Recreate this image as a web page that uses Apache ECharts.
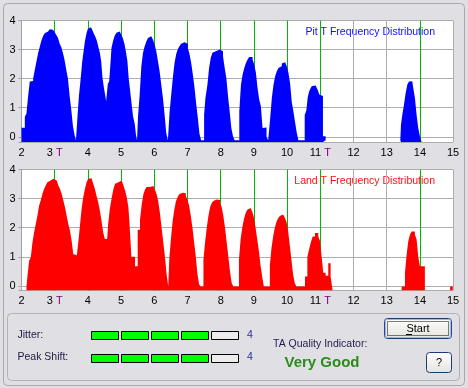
<!DOCTYPE html>
<html><head><meta charset="utf-8">
<script src="https://cdn.jsdelivr.net/npm/echarts@6/dist/echarts.min.js"></script>
<style>html,body{margin:0;padding:0;background:#e0dfe3;}#c{width:468px;height:388px;}</style>
</head><body><div id="c"></div>
<script>
// ---- data (T position, log10 frequency) ----
const idealT = [3, 4, 5, 6, 7, 8, 9, 10, 11, 14];
const tickT = [2, 3, 4, 5, 6, 7, 8, 9, 10, 11, 12, 13, 14, 15];
const markedT = [3, 11];
const pit3T = [[2.00,0.31],[2.05,0.31],[2.10,0.69],[2.15,0.80],[2.20,1.41],[2.25,1.90],[2.30,1.92],[2.35,2.00],[2.40,2.30],[2.45,2.59],[2.50,2.87],[2.55,3.10],[2.60,3.31],[2.65,3.47],[2.70,3.56],[2.75,3.62],[2.80,3.66],[2.85,3.70],[2.90,3.68],[2.95,3.65],[3.00,3.60],[3.05,3.50],[3.10,3.40],[3.15,3.20],[3.20,3.08],[3.25,2.87],[3.30,2.62],[3.35,2.30],[3.40,1.99],[3.45,1.40],[3.50,0.92],[3.55,0.36],[3.60,0.05],[3.64,-0.12]];
const pit4T = [[3.69,0.76],[3.73,1.41],[3.78,1.97],[3.83,2.60],[3.87,2.94],[3.91,3.29],[3.96,3.57],[4.00,3.72],[4.04,3.77],[4.09,3.75],[4.13,3.68],[4.17,3.57],[4.22,3.45],[4.27,3.30],[4.31,3.11],[4.36,2.89],[4.40,2.60],[4.44,2.02],[4.48,1.70],[4.51,1.51],[4.55,1.22]];
const pit5T = [[4.60,1.82],[4.64,1.90],[4.66,2.20],[4.68,2.53],[4.71,3.05],[4.76,3.30],[4.81,3.48],[4.86,3.58],[4.91,3.62],[4.96,3.60],[5.01,3.50],[5.05,3.40],[5.10,3.20],[5.15,2.90],[5.19,2.60],[5.23,2.00],[5.27,1.60],[5.31,1.20],[5.36,0.70],[5.41,0.45],[5.45,0.04],[5.48,-0.12]];
const pit6T = [[5.51,0.70],[5.56,1.45],[5.61,2.43],[5.66,2.89],[5.71,3.11],[5.76,3.28],[5.81,3.40],[5.86,3.46],[5.91,3.47],[5.96,3.34],[6.01,3.17],[6.06,2.94],[6.11,2.60],[6.16,2.25],[6.21,1.79],[6.26,1.33],[6.31,0.76],[6.36,0.13],[6.41,-0.12]];
const pit7T = [[6.46,0.84],[6.51,1.45],[6.56,2.05],[6.61,2.55],[6.66,2.85],[6.71,3.02],[6.76,3.12],[6.81,3.20],[6.86,3.25],[6.91,3.26],[6.96,3.20],[7.01,3.05],[7.06,2.85],[7.11,2.55],[7.16,2.15],[7.21,1.70],[7.26,1.15],[7.31,0.65],[7.36,0.10],[7.41,-0.12]];
const pit8T = [[7.50,0.76],[7.54,1.33],[7.60,1.79],[7.65,2.37],[7.70,2.71],[7.75,2.89],[7.80,2.95],[7.87,3.00],[7.97,2.98],[8.02,2.94],[8.07,2.77],[8.12,2.37],[8.17,2.02],[8.22,1.40],[8.27,0.87],[8.32,0.30],[8.37,0.02],[8.42,-0.12]];
const pit9T = [[8.56,0.87],[8.61,1.79],[8.66,2.14],[8.71,2.37],[8.76,2.54],[8.81,2.66],[8.86,2.74],[8.96,2.66],[9.01,2.48],[9.06,2.20],[9.11,1.68],[9.16,1.28],[9.21,1.05],[9.26,0.30],[9.31,0.32],[9.38,0.00],[9.43,-0.12]];
const pit10T = [[9.49,0.64],[9.54,1.33],[9.59,1.79],[9.64,2.08],[9.69,2.25],[9.74,2.37],[9.79,2.43],[9.84,2.52],[9.89,2.56],[9.94,2.54],[9.99,2.43],[10.04,2.20],[10.09,1.84],[10.14,1.20],[10.19,0.87],[10.24,0.50],[10.29,0.15],[10.34,-0.12]];
const pit11T = [[10.53,0.75],[10.58,0.90],[10.62,1.35],[10.66,1.55],[10.70,1.65],[10.74,1.74],[10.80,1.76],[10.86,1.72],[10.92,1.62],[10.97,1.45],[11.02,1.40],[11.08,0.02],[11.16,-0.12],[11.22,-0.12]];
const pit14T = [[13.41,-0.12],[13.43,0.41],[13.47,0.76],[13.52,1.10],[13.57,1.50],[13.62,1.79],[13.67,1.90],[13.72,1.91],[13.77,1.85],[13.80,1.68],[13.85,1.33],[13.90,0.76],[13.95,0.30],[14.00,0.02],[14.05,0.02]];

const land3T = [[2.15,-0.02],[2.18,0.34],[2.23,0.86],[2.28,0.98],[2.33,1.49],[2.38,1.84],[2.43,2.13],[2.48,2.41],[2.53,2.76],[2.58,2.93],[2.63,3.16],[2.68,3.33],[2.73,3.45],[2.78,3.56],[2.83,3.62],[2.88,3.68],[2.96,3.68],[3.01,3.62],[3.06,3.56],[3.11,3.45],[3.16,3.33],[3.21,3.16],[3.26,2.93],[3.31,2.70],[3.36,2.41],[3.41,2.13],[3.46,1.90],[3.51,1.55],[3.56,1.09],[3.61,1.06],[3.66,0.98]];
const land4T = [[3.71,1.49],[3.76,2.07],[3.81,2.64],[3.86,3.05],[3.91,3.33],[3.96,3.56],[4.01,3.68],[4.06,3.70],[4.11,3.66],[4.16,3.51],[4.21,3.33],[4.26,3.10],[4.31,2.87],[4.36,2.59],[4.41,2.24],[4.46,1.84],[4.51,1.61],[4.58,1.59]];
const land5T = [[4.61,2.13],[4.66,2.64],[4.72,3.05],[4.77,3.33],[4.82,3.51],[4.87,3.56],[4.92,3.62],[5.02,3.56],[5.07,3.45],[5.12,3.28],[5.17,3.05],[5.22,2.70],[5.25,2.20],[5.28,1.60],[5.31,1.00],[5.42,0.67]];
const land6T = [[5.50,1.93],[5.57,2.28],[5.62,2.79],[5.67,3.14],[5.72,3.31],[5.77,3.40],[5.87,3.43],[5.97,3.38],[6.02,3.30],[6.07,3.15],[6.12,2.90],[6.17,2.50],[6.22,2.00],[6.27,1.50],[6.32,1.00],[6.37,0.40],[6.42,-0.02]];
const land7T = [[6.45,0.90],[6.50,1.60],[6.55,2.20],[6.60,2.60],[6.65,2.90],[6.70,3.05],[6.75,3.15],[6.80,3.20],[6.85,3.20],[6.90,3.18],[6.95,3.10],[7.00,2.95],[7.05,2.75],[7.10,2.40],[7.15,2.00],[7.20,1.50],[7.25,1.00],[7.30,0.40],[7.35,0.05],[7.40,-0.02]];
const land8T = [[7.48,0.90],[7.53,1.50],[7.58,2.00],[7.63,2.40],[7.68,2.70],[7.73,2.85],[7.78,2.92],[7.83,2.97],[7.88,2.98],[7.93,2.95],[7.98,2.85],[8.03,2.70],[8.08,2.40],[8.13,2.00],[8.18,1.50],[8.23,1.00],[8.28,0.50],[8.33,0.10],[8.38,-0.02]];
const land9T = [[8.55,0.90],[8.60,1.60],[8.65,2.00],[8.70,2.30],[8.75,2.50],[8.80,2.62],[8.85,2.68],[8.90,2.66],[8.95,2.55],[9.00,2.35],[9.05,2.00],[9.10,1.60],[9.15,1.20],[9.20,0.70],[9.25,0.30],[9.30,-0.02]];
const land10T = [[9.48,0.70],[9.53,1.30],[9.58,1.70],[9.63,2.00],[9.68,2.20],[9.73,2.32],[9.78,2.40],[9.83,2.45],[9.88,2.45],[9.93,2.35],[9.98,2.20],[10.03,1.90],[10.08,1.40],[10.13,0.90],[10.18,0.40],[10.23,0.10],[10.28,-0.02]];
const land11T = [[10.54,0.32],[10.61,1.00],[10.67,1.29],[10.72,1.52],[10.77,1.70],[10.84,1.82],[10.94,1.70],[10.99,1.55],[11.04,1.00],[11.09,0.45],[11.16,0.35],[11.24,0.78],[11.31,0.32],[11.37,0.32]];
const land14T = [[13.45,-0.02],[13.55,0.44],[13.60,1.07],[13.65,1.53],[13.70,1.76],[13.75,1.87],[13.85,1.76],[13.90,1.60],[13.95,1.00],[14.00,0.67],[14.15,0.67]];
const land15T = [[14.91,-0.02],[14.99,-0.02]];

const jitterRows = ['Jitter:', 'Peak Shift:'];
const jitterLevels = [4, 4];
const levelMax = 5;
const qualityText = 'Very Good';

// ---- build ----
// a run ends at its last point; a null point at the same T breaks the line there
const endRun = run => run.concat([[run[run.length - 1][0], null]]);
const pitData = [].concat(pit3T, pit4T, pit5T, pit6T, pit7T, pit8T, pit9T, pit10T, endRun(pit11T), endRun(pit14T));
const landData = [].concat(land3T, land4T, land5T, land6T, land7T, land8T, land9T, land10T, endRun(land11T), endRun(land14T), endRun(land15T));

const FONT = 'Liberation Sans, Arial, sans-serif';
const gridGray = '#adadad';

function xAxisFor(gi) {
  return {
    gridIndex: gi, type: 'value', min: tickT[0], max: tickT[tickT.length - 1], interval: 1,
    axisLine: { show: false },
    axisTick: { show: true, length: 3, lineStyle: { color: gridGray } },
    splitLine: { show: true, lineStyle: { color: gridGray, width: 1 } },
    axisLabel: {
      margin: 5, color: '#000', fontSize: 11, fontFamily: FONT,
      formatter: v => markedT.includes(v) ? '{n|' + v + '} {t|T}' : String(v),
      rich: { n: { color: '#000', fontSize: 11, fontFamily: FONT }, t: { color: '#800080', fontSize: 11, fontFamily: FONT } }
    }
  };
}
function yAxisFor(gi, mn) {
  return {
    gridIndex: gi, type: 'value', min: mn, max: 4,
    axisLine: { show: true, lineStyle: { color: '#a0a0a0' } },
    axisTick: { show: true, length: 3, lineStyle: { color: '#a0a0a0' } },
    splitLine: { show: true, lineStyle: { color: gridGray, width: 1 } },
    axisLabel: { margin: 6, color: '#000', fontSize: 11, fontFamily: FONT,
      formatter: v => (Math.abs(v - Math.round(v)) < 1e-9 && v >= 0) ? String(Math.round(v)) : '' }
  };
}
function distSeries(gi, data, color) {
  return {
    type: 'line', xAxisIndex: gi, yAxisIndex: gi, data: data, step: 'end',
    symbol: 'none', showSymbol: false, connectNulls: false, silent: true, z: 4,
    lineStyle: { width: 0, opacity: 0 },
    areaStyle: { color: color, opacity: 1, origin: 'start' }
  };
}
function idealSeries(gi) {
  return {
    type: 'line', xAxisIndex: gi, yAxisIndex: gi, data: [], z: 1, silent: true,
    markLine: {
      z: 1, silent: true, symbol: ['none', 'none'], animation: false,
      label: { show: false },
      lineStyle: { color: '#00b800', width: 1, type: 'solid' },
      emphasis: { disabled: true },
      data: idealT.map(t => ({ xAxis: t }))
    }
  };
}

const chart = echarts.init(document.getElementById('c'), null, { renderer: 'canvas' });
chart.setOption({
  backgroundColor: '#e0dfe3',
  animation: false,
  textStyle: { fontFamily: FONT },
  grid: [
    { left: 21.5, top: 20.5, width: 431.6, height: 121.5, show: true, backgroundColor: '#ffffff', borderWidth: 0 },
    { left: 21.5, top: 169.5, width: 431.6, height: 121, show: true, backgroundColor: '#ffffff', borderWidth: 0 },
    { left: 91, top: 323.75, width: 150, height: 45 }
  ],
  xAxis: [ xAxisFor(0), xAxisFor(1),
    { gridIndex: 2, type: 'value', min: 0, max: levelMax, show: false } ],
  yAxis: [ yAxisFor(0, -0.18), yAxisFor(1, -0.16),
    { gridIndex: 2, type: 'category', data: jitterRows, inverse: true,
      axisLine: { show: false }, axisTick: { show: false }, splitLine: { show: false },
      axisLabel: { align: 'left', margin: 73.5, color: '#1e1a40', fontSize: 10.5, fontFamily: FONT } } ],
  series: [
    idealSeries(0), distSeries(0, pitData, '#0000ff'),
    idealSeries(1), distSeries(1, landData, '#ff0000'),
    {
      type: 'custom', coordinateSystem: 'cartesian2d', xAxisIndex: 2, yAxisIndex: 2, silent: true,
      data: jitterLevels.map((lv, i) => [lv, i]),
      renderItem: function (params, api) {
        const level = api.value(0), row = api.value(1);
        const kids = [];
        for (let k = 0; k < levelMax; k++) {
          const a = api.coord([k, row]), b = api.coord([k + 1, row]);
          kids.push({ type: 'rect',
            shape: { x: Math.round(a[0]) + 0.5, y: Math.round(a[1] - 4) + 0.5, width: Math.round(b[0] - a[0]) - 3, height: 8 },
            style: { fill: k < level ? '#00ff00' : '#ececec', stroke: '#000', lineWidth: 1 } });
        }
        const e = api.coord([levelMax, row]);
        kids.push({ type: 'text', style: { text: String(level), x: e[0] + 6, y: e[1], align: 'left', verticalAlign: 'middle',
          fill: '#2a2a9c', font: '10.5px ' + FONT } });
        return { type: 'group', children: kids };
      }
    }
  ],
  graphic: [
    { type: 'rect', silent: true, z: -10, shape: { x: 3.5, y: 3.5, width: 461, height: 382, r: 4 }, style: { fill: null, stroke: '#a9a9a9', lineWidth: 1 } },
    { type: 'rect', silent: true, z: -10, shape: { x: 7.5, y: 313.5, width: 452, height: 67, r: 4 }, style: { fill: null, stroke: '#b2b2b2', lineWidth: 1 } },
    { type: 'text', silent: true, style: { text: 'Pit T Frequency Distribution', x: 435, y: 32, align: 'right', verticalAlign: 'middle', fill: '#1010ff', font: '10.5px ' + FONT } },
    { type: 'text', silent: true, style: { text: 'Land T Frequency Distribution', x: 435, y: 181, align: 'right', verticalAlign: 'middle', fill: '#ff1010', font: '10.5px ' + FONT } },
    { type: 'text', silent: true, style: { text: 'TA Quality Indicator:', x: 273, y: 344.5, align: 'left', verticalAlign: 'middle', fill: '#241a4e', font: '10.5px ' + FONT } },
    { type: 'text', silent: true, style: { text: qualityText, x: 322, y: 362.5, align: 'center', verticalAlign: 'middle', fill: '#2a8a1a', font: 'bold 15px ' + FONT } },
    // Start button
    { type: 'rect', silent: true, shape: { x: 384.5, y: 318.5, width: 67, height: 20, r: 3 },
      style: { fill: { type: 'linear', x: 0, y: 0, x2: 0, y2: 1, colorStops: [{ offset: 0, color: '#ffffff' }, { offset: 1, color: '#e4e3dc' }] }, stroke: '#1c3c74', lineWidth: 1 } },
    { type: 'rect', silent: true, shape: { x: 385.5, y: 319.5, width: 65, height: 18, r: 2 }, style: { fill: null, stroke: '#9db8ec', lineWidth: 1.2 } },
    { type: 'rect', silent: true, shape: { x: 387.5, y: 321.5, width: 61, height: 14 }, style: { fill: null, stroke: '#000', lineWidth: 1, lineDash: [1, 1] } },
    { type: 'text', silent: true, style: { text: 'Start', x: 418, y: 329, align: 'center', verticalAlign: 'middle', fill: '#000', font: '11px ' + FONT } },
    { type: 'line', silent: true, shape: { x1: 406, y1: 334.5, x2: 412, y2: 334.5 }, style: { stroke: '#000', lineWidth: 1 } },
    // ? button
    { type: 'rect', silent: true, shape: { x: 426.5, y: 352.5, width: 25, height: 20, r: 3 },
      style: { fill: { type: 'linear', x: 0, y: 0, x2: 0, y2: 1, colorStops: [{ offset: 0, color: '#ffffff' }, { offset: 1, color: '#e4e3dc' }] }, stroke: '#1c3c74', lineWidth: 1 } },
    { type: 'text', silent: true, style: { text: '?', x: 439, y: 363, align: 'center', verticalAlign: 'middle', fill: '#000', font: '11px ' + FONT } }
  ]
});
</script></body></html>
